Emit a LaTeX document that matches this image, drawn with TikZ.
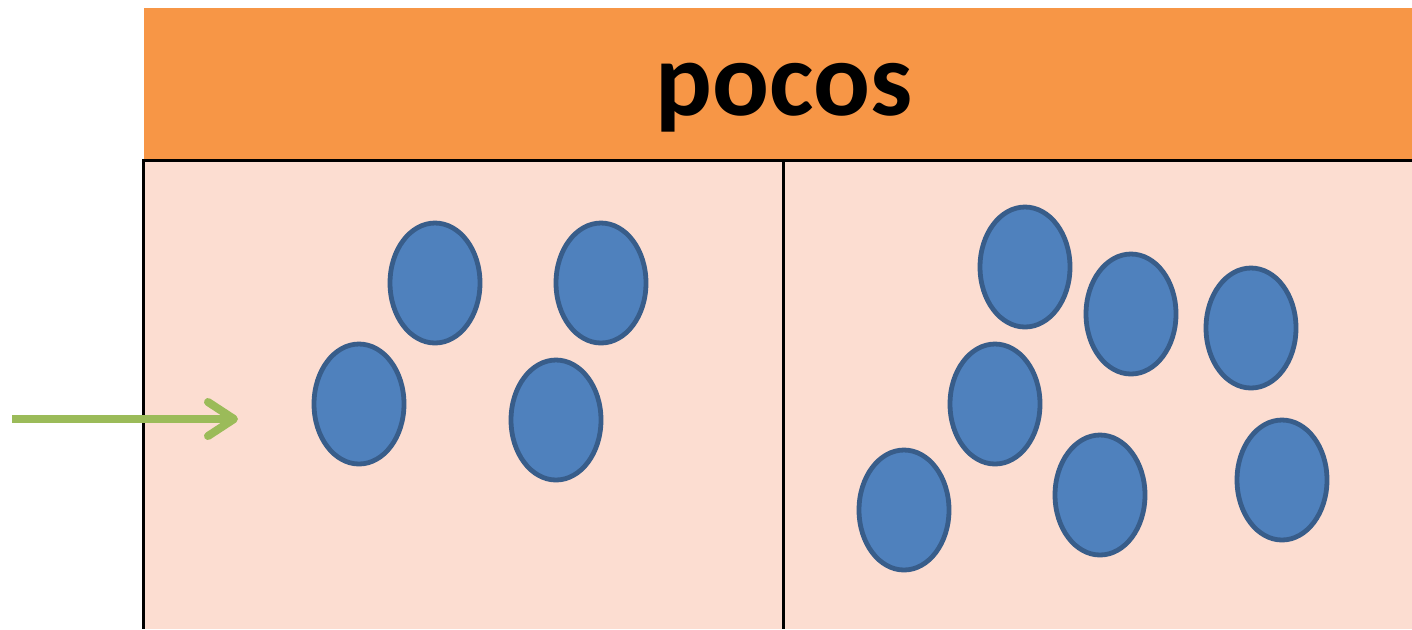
\documentclass[tikz,border=0pt]{standalone}
\usepackage{fontspec}
\setmainfont{Carlito}
\usetikzlibrary{arrows.meta,shapes.geometric}

\definecolor{headorange}{HTML}{F79646}
\definecolor{panelpink}{HTML}{FCDDD1}
\definecolor{dotblue}{HTML}{4F81BD}
\definecolor{dotedge}{HTML}{385D8A}
\definecolor{arrowgreen}{HTML}{9BBB59}

\tikzstyle{dot} = [ellipse, fill=dotblue, draw=dotedge, line width=2.4pt, minimum width=45pt, minimum height=60pt, inner sep=0pt]
\tikzstyle{rule} = [black, line width=1.5pt]

\begin{document}
\begin{tikzpicture}[x=0.5pt, y=-0.5pt]
\useasboundingbox (0,0) rectangle (1412,629);
% header and panels
\fill[headorange] (144,8) rectangle (1412,160);
\fill[panelpink] (144,160) rectangle (1412,629);
\node[font=\bfseries\fontsize{53}{60}\selectfont] (title) at (784,98) {pocos};
\draw[rule] (142,160) -- (1412,160);
\draw[rule] (143,160) -- (143,629);
\draw[rule] (783,160) -- (783,629);
% left panel
\node[dot] (l1) at (435,283) {};
\node[dot] (l2) at (601,283) {};
\node[dot] (l3) at (359,404) {};
\node[dot] (l4) at (556,420) {};
% right panel
\node[dot] (r1) at (1025,267) {};
\node[dot] (r2) at (1131,314) {};
\node[dot] (r3) at (1251,328) {};
\node[dot] (r4) at (995,404) {};
\node[dot] (r5) at (904,510) {};
\node[dot] (r6) at (1100,495) {};
\node[dot] (r7) at (1282,480) {};
% arrow
\coordinate (start) at (12,419);
\coordinate (tip) at (238,419);
\draw[arrowgreen, line width=4pt, -{Straight Barb[length=13pt,width=17pt,round]}] (start) -- (tip);
\end{tikzpicture}
\end{document}
